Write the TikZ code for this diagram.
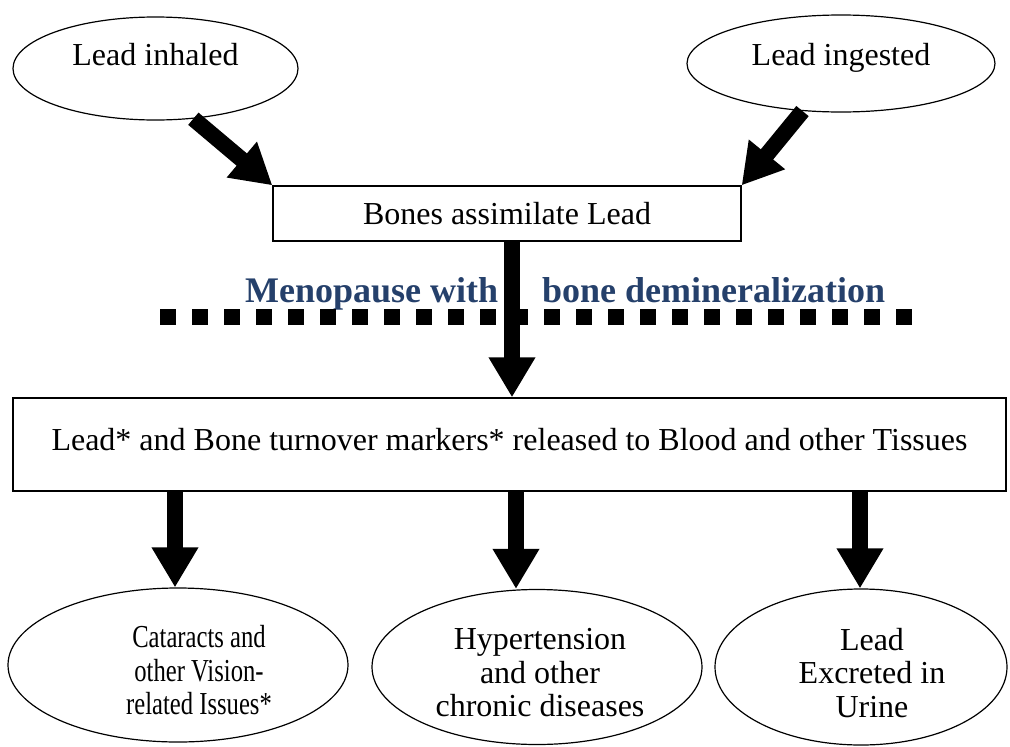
\documentclass[tikz,border=0pt]{standalone}
\usepackage{fontspec}
\setmainfont{Liberation Serif}
\newfontfamily\condfont{Liberation Serif}[FakeStretch=0.77]
\usetikzlibrary{arrows.meta,shapes.geometric}
\definecolor{menoblue}{RGB}{37,64,107}
\tikzset{
  oval/.style={draw, ellipse, line width=1.2pt, inner sep=0pt},
  rectbox/.style={draw, rectangle, line width=1.3pt, inner sep=0pt, font=\fontsize{32}{33.5}\selectfont},
  bigarrow/.style={line width=16pt, -{Triangle[width=44pt,length=40pt]}},
  lbl/.style={font=\fontsize{32}{33.5}\selectfont, align=center, inner sep=0pt},
  meno/.style={font=\fontsize{36}{40}\selectfont\bfseries, text=menoblue, inner sep=0pt},
  dotline/.style={line width=16pt, dash pattern=on 16pt off 16pt},
}
\begin{document}
\begin{tikzpicture}[x=1pt,y=-1pt]
\useasboundingbox (0,0) rectangle (1010,747);
\fill[white] (0,0) rectangle (1010,747);

% top sources
\node[oval, minimum width=285pt, minimum height=103pt] (inh) at (155.5,68.5) {};
\node[lbl, anchor=base] (inht) at (155.5,65) {Lead inhaled};
\node[oval, minimum width=308pt, minimum height=97pt] (ing) at (841,63.5) {};
\node[lbl, anchor=base] (ingt) at (841,65) {Lead ingested};

% bones box
\node[rectbox, minimum width=468pt, minimum height=55pt] (bones) at (507,213.5) {Bones assimilate Lead};

% menopause label and dotted line
\node[meno, anchor=base west] (meno1) at (245,302) {Menopause with};
\node[meno, anchor=base west] (meno2) at (542,302) {bone demineralization};
\coordinate (d1) at (160,317);
\coordinate (d2) at (912,317);
\draw[dotline] (d1) -- (d2);

% release box
\node[rectbox, minimum width=993pt, minimum height=93pt, text height=22pt, text depth=11pt] (big) at (509.5,444.5)
  {Lead* and Bone turnover markers* released to Blood and other Tissues};

% outcomes
\node[oval, minimum width=340pt, minimum height=154pt] (e1) at (178,665) {};
\node[lbl, font=\fontsize{32}{33.5}\condfont] (t1) at (199,670.5) {Cataracts and\\other Vision-\\related Issues*};
\node[oval, minimum width=330pt, minimum height=155pt] (e2) at (537,667) {};
\node[lbl] (t2) at (540,673) {Hypertension\\and other\\chronic diseases};
\node[oval, minimum width=292pt, minimum height=156pt] (e3) at (861,667) {};
\node[lbl] (t3) at (872,673) {Lead\\Excreted in\\Urine};

% connectors
\coordinate (m0) at (512,0);
\coordinate (m1) at (175,0);
\coordinate (m2) at (516,0);
\coordinate (m3) at (860,0);
\draw[bigarrow] (inh.-53) -- (bones.north west);
\draw[bigarrow] (ing.-129) -- (bones.north east);
\draw[bigarrow] (bones.south -| m0) -- (big.north -| m0);
\draw[bigarrow] (big.south -| m1) -- (e1.north -| m1);
\draw[bigarrow] (big.south -| m2) -- (e2.north -| m2);
\draw[bigarrow] (big.south -| m3) -- (e3.north -| m3);
\end{tikzpicture}
\end{document}
